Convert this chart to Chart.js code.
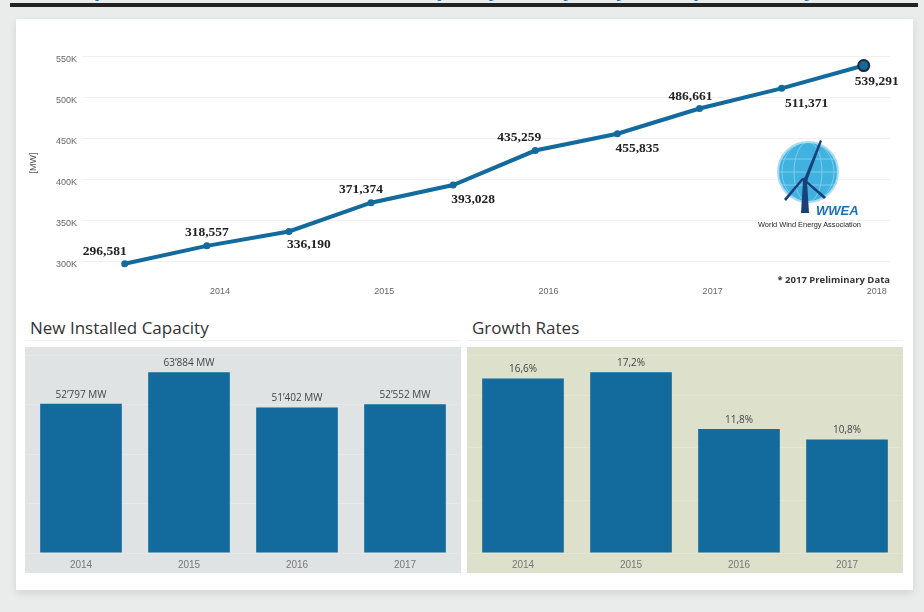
<!DOCTYPE html>
<html>
<head>
<meta charset="utf-8">
<script src="https://cdn.jsdelivr.net/npm/chart.js@4.4.1/dist/chart.umd.min.js"></script>
<style>
    body { margin: 0; width: 924px; height: 612px; overflow: hidden; background: #eaecec; font-family: 'Open Sans', sans-serif; position: relative; }
    .abs { position: absolute; }
    #topTitle { left: 22px; top: -26px; font: bold 21px 'Open Sans', sans-serif; color: #1a78c2; white-space: nowrap; }
    #topRule { left: 10px; top: 3px; width: 908px; height: 4px; background: #222; }
    #card { left: 16px; top: 19px; width: 897px; height: 571px; background: #fff; box-shadow: 0 3px 8px rgba(0,0,0,0.10); }
    .title { font-size: 17px; color: #333; top: 316px; }
    .rule { top: 340px; height: 1px; background: #f0f0f0; }
    #note { right: 34px; top: 273px; font: bold 9.5px 'Open Sans', sans-serif; color: #333; }
    #panel1 { left: 25px; top: 347px; background: #dfe3e4; }
    #panel2 { left: 467px; top: 347px; background: #dde0cb; }
</style>
</head>
<body>
<div id="topTitle" class="abs">Development of Worldwide Installed Capacity (Half-yearly, 2017 preliminary)</div>
<div id="topRule" class="abs"></div>
<div id="card" class="abs"></div>

<canvas id="lineChart" class="abs" style="left:20px; top:30px;" width="880" height="272"></canvas>

<svg class="abs" style="left:750px; top:135px;" width="125" height="100" viewBox="0 0 125 100">
    <circle cx="58" cy="37" r="30" fill="#3fb2e0"/>
    <g stroke="#8fd4f0" stroke-width="1" fill="none" opacity="0.8">
        <ellipse cx="58" cy="37" rx="14" ry="30"/>
        <ellipse cx="58" cy="37" rx="26" ry="30"/>
        <line x1="28" y1="37" x2="88" y2="37"/>
        <line x1="31" y1="24" x2="85" y2="24"/>
        <line x1="31" y1="50" x2="85" y2="50"/>
    </g>
    <circle cx="58" cy="37" r="30" fill="none" stroke="#a8dcf2" stroke-width="2"/>
    <g fill="#1b3f78">
        <polygon points="53,46 57,46 59,78 51,78"/>
        <polygon points="54,44 70,5 72,6 57,46"/>
        <polygon points="54,44 36,66 34,64 52,43"/>
        <polygon points="56,45 76,62 74,64 55,47"/>
        <circle cx="55" cy="45" r="2.5"/>
    </g>
    <text x="66" y="80" font-family="'Liberation Sans', sans-serif" font-weight="bold" font-style="italic" font-size="13" fill="#1c6fb8">WWEA</text>
    <text x="8" y="92" font-family="'Liberation Sans Narrow', 'Liberation Sans', sans-serif" font-size="7.4" fill="#222">World Wind Energy Association</text>
</svg>
<div id="note" class="abs">* 2017 Preliminary Data</div>

<div class="abs title" style="left:30px;">New Installed Capacity</div>
<div class="abs title" style="left:472px;">Growth Rates</div>
<div class="abs rule" style="left:25px; width:435px;"></div>
<div class="abs rule" style="left:467px; width:436px;"></div>

<canvas id="panel1" class="abs" width="436" height="226"></canvas>
<canvas id="panel2" class="abs" width="436" height="226"></canvas>

<script>
// cumulative capacity, half-yearly (year as decimal position on the time axis)
const periodPos = [2013.42, 2013.92, 2014.42, 2014.92, 2015.42, 2015.92, 2016.42, 2016.92, 2017.42, 2017.92];
const totalCapacity = [296581, 318557, 336190, 371374, 393028, 435259, 455835, 486661, 511371, 539291];
const yearTicks = [2014, 2015, 2016, 2017, 2018];
const capacityTicks = [300000, 350000, 400000, 450000, 500000, 550000];

// bar panels
const barYears = ['2014', '2015', '2016', '2017'];
const newCapacity = [52797, 63884, 51402, 52552];
const growthRates = [16.6, 17.2, 11.8, 10.8];

// label placement around the line points (dx, dy in px)
const labelOffsets = [[-20, -12], [0, -13], [20, 13], [-10, -13], [20, 14], [-16, -13], [20, 15], [-9, -12], [25, 15], [13, 16]];

const blue = '#136a9d';

function fmtThousands(v, sep) {
    return String(v).replace(/\B(?=(\d{3})+(?!\d))/g, sep);
}

const lineLabels = {
    id: 'lineLabels',
    afterDatasetsDraw(chart) {
        const ctx = chart.ctx;
        const meta = chart.getDatasetMeta(0);
        ctx.save();
        ctx.font = 'bold 13.5px "Liberation Serif", serif';
        ctx.fillStyle = '#222';
        ctx.textAlign = 'center';
        ctx.textBaseline = 'middle';
        meta.data.forEach((pt, i) => {
            const off = labelOffsets[i];
            ctx.fillText(fmtThousands(totalCapacity[i], ','), pt.x + off[0], pt.y + off[1]);
        });
        ctx.restore();
    }
};

new Chart(document.getElementById('lineChart').getContext('2d'), {
    type: 'line',
    data: {
        datasets: [{
            data: periodPos.map((x, i) => ({ x: x, y: totalCapacity[i] })),
            borderColor: blue,
            borderWidth: 4,
            backgroundColor: blue,
            pointBackgroundColor: blue,
            pointBorderColor: totalCapacity.map((v, i) => i === totalCapacity.length - 1 ? '#1c2a33' : blue),
            pointBorderWidth: totalCapacity.map((v, i) => i === totalCapacity.length - 1 ? 2 : 0),
            pointRadius: totalCapacity.map((v, i) => i === totalCapacity.length - 1 ? 5.5 : 3.5),
            tension: 0,
            clip: false
        }]
    },
    options: {
        responsive: false,
        animation: false,
        layout: { padding: { top: 17, right: 10, left: 0, bottom: 0 } },
        plugins: { legend: { display: false }, tooltip: { enabled: false } },
        scales: {
            x: {
                type: 'linear',
                min: 2013.16,
                max: 2018.08,
                grid: { display: false, drawTicks: false },
                border: { display: false },
                afterBuildTicks: s => { s.ticks = yearTicks.map(v => ({ value: v })); },
                afterFit: s => { s.height = 23; },
                ticks: {
                    padding: 7,
                    color: '#666',
                    font: { size: 9, family: 'Liberation Sans' },
                    callback: v => String(v)
                }
            },
            y: {
                min: 278000,
                max: 562000,
                grid: { color: '#f1f1f1', drawTicks: false },
                border: { display: false },
                afterBuildTicks: s => { s.ticks = capacityTicks.map(v => ({ value: v })); },
                afterFit: s => { s.width = 62; },
                title: { display: true, text: '[MW]', color: '#555', font: { size: 9, family: 'Liberation Sans' }, padding: { top: 8, bottom: 6 } },
                ticks: {
                    padding: 5,
                    labelOffset: 3,
                    color: '#666',
                    font: { size: 9, family: 'Liberation Sans' },
                    callback: v => (v / 1000) + 'K'
                }
            }
        }
    },
    plugins: [lineLabels]
});

function barValueLabels(fmt) {
    return {
        id: 'barValues',
        afterDatasetsDraw(chart) {
            const ctx = chart.ctx;
            const ds = chart.data.datasets[0];
            ctx.save();
            ctx.font = '10px "Open Sans", sans-serif';
            ctx.fillStyle = '#444';
            ctx.textAlign = 'center';
            ctx.textBaseline = 'middle';
            chart.getDatasetMeta(0).data.forEach((bar, i) => {
                ctx.fillText(fmt(ds.data[i]), bar.x, bar.y - 9);
            });
            ctx.restore();
        }
    };
}

function makeBarChart(id, values, max, step, fmt) {
    new Chart(document.getElementById(id).getContext('2d'), {
        type: 'bar',
        data: {
            labels: barYears,
            datasets: [{
                data: values,
                backgroundColor: blue,
                categoryPercentage: 1,
                barPercentage: 0.756
            }]
        },
        options: {
            responsive: false,
            animation: false,
            layout: { padding: { top: 8, left: 2, right: 2, bottom: 0 } },
            plugins: { legend: { display: false }, tooltip: { enabled: false } },
            scales: {
                x: {
                    grid: { display: false, drawTicks: false },
                    border: { display: false },
                    afterFit: s => { s.height = 20; },
                    ticks: { padding: 6, color: '#777', font: { size: 10, family: 'Liberation Sans' } }
                },
                y: {
                    min: 0,
                    max: max,
                    ticks: { display: false, stepSize: step },
                    grid: { color: 'rgba(255,255,255,0.2)', drawTicks: false },
                    border: { display: false },
                    afterFit: s => { s.width = 0; }
                }
            }
        },
        plugins: [barValueLabels(fmt)]
    });
}

makeBarChart('panel1', newCapacity, 70000, 20000, v => fmtThousands(v, '\u2019') + ' MW');
makeBarChart('panel2', growthRates, 18.83, 5, v => v.toFixed(1).replace('.', ',') + '%');
</script>
</body>
</html>
